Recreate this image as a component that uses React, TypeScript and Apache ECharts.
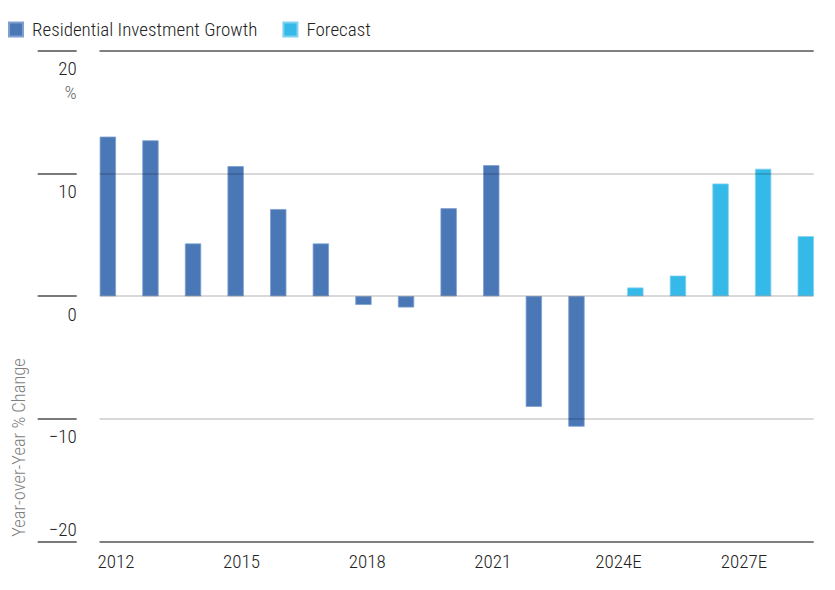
import React, { useEffect, useRef } from "react";
import * as echarts from "echarts";

const categories = ["2012", "2013", "2014", "2015", "2016", "2017", "2018", "2019", "2020", "2021", "2022", "2023", "2024E", "2025E", "2026E", "2027E", "2028E"];
const historical = [13.0, 12.7, 4.3, 10.6, 7.1, 4.3, -0.71, -0.92, 7.17, 10.68, -9.02, -10.63, null, null, null, null, null];
const forecast = [null, null, null, null, null, null, null, null, null, null, null, null, 0.71, 1.68, 9.18, 10.38, 4.89];
const yMin = -20;
const yMax = 20;
const yStep = 10;

const FONT = '"Roboto Condensed", Roboto, sans-serif';
const WEIGHT = 300;
const TOP = 50.7;
const H = 491;

const fmtNum = (v: number) => (v < 0 ? "\u2212" + -v : String(v));

const hiddenParts = {
  axisLine: { show: false },
  axisTick: { show: false },
  axisLabel: { show: false },
  splitLine: { show: false },
};

export default function App() {
  const ref = useRef<HTMLDivElement>(null);
  useEffect(() => {
    const chart = echarts.init(ref.current!, null, { renderer: "svg" });
    chart.setOption({
      animation: false,
      backgroundColor: "#ffffff",
      legend: {
        left: 8,
        top: 20,
        padding: 0,
        icon: "rect",
        itemWidth: 14,
        itemHeight: 14,
        itemGap: 25,
        textStyle: { fontFamily: FONT, fontWeight: WEIGHT, fontSize: 19, color: "#222", padding: [0, 0, 0, 4] },
        data: ["Residential Investment Growth", "Forecast"],
      },
      grid: [
        { left: 94.7, top: TOP, width: 724.2, height: H },
        { left: 99.5, top: TOP, width: 714.2, height: H },
        { left: 37.7, top: TOP, width: 39, height: H },
        { left: 37.7, top: TOP, width: 39, height: H },
        { left: 95, top: TOP, width: 711.8, height: H },
      ],
      xAxis: [
        { type: "category", gridIndex: 0, data: categories, ...hiddenParts },
        { type: "value", gridIndex: 1, min: 0, max: 1, ...hiddenParts },
        { type: "value", gridIndex: 2, min: 0, max: 1, ...hiddenParts },
        { type: "value", gridIndex: 3, min: 0, max: 1, ...hiddenParts },
        {
          type: "category",
          gridIndex: 4,
          data: categories,
          axisLine: { show: false },
          axisTick: { show: false },
          splitLine: { show: false },
          axisLabel: { interval: 2, margin: 10, fontFamily: FONT, fontWeight: WEIGHT, fontSize: 19, color: "#222" },
        },
      ],
      yAxis: [
        { type: "value", gridIndex: 0, min: yMin, max: yMax, interval: yStep, ...hiddenParts },
        {
          type: "value",
          gridIndex: 1,
          min: yMin,
          max: yMax,
          interval: yStep,
          z: 5,
          axisLine: { show: false },
          axisTick: { show: false },
          axisLabel: { show: false },
          splitLine: {
            show: true,
            lineStyle: {
              width: 1.8,
              color: ["rgba(0,0,0,0.5)", "rgba(0,0,0,0.15)", "rgba(0,0,0,0.15)", "rgba(0,0,0,0.15)", "rgba(0,0,0,0.5)"],
            },
          },
        },
        {
          type: "value",
          gridIndex: 2,
          position: "right",
          min: yMin,
          max: yMax,
          interval: yStep,
          axisLine: { show: false },
          axisTick: { show: false },
          splitLine: { show: true, lineStyle: { width: 1.8, color: "#7a7a7a" } },
          axisLabel: {
            inside: true,
            margin: 0,
            verticalAlign: "top",
            padding: [6, 0, 0, 0],
            formatter: (v: number) => (v === yMin ? "" : v === yMax ? `{v|${fmtNum(v)}}\n{p|%}` : `{v|${fmtNum(v)}}`),
            rich: {
              v: { fontFamily: FONT, fontWeight: WEIGHT, fontSize: 19, lineHeight: 24, color: "#222", align: "right" },
              p: { fontFamily: FONT, fontWeight: WEIGHT, fontSize: 19, lineHeight: 24, color: "#666", align: "right" },
            },
          },
        },
        {
          type: "value",
          gridIndex: 3,
          position: "right",
          min: yMin,
          max: yMax,
          interval: yStep,
          axisLine: { show: false },
          axisTick: { show: false },
          splitLine: { show: false },
          axisLabel: {
            inside: true,
            margin: 0,
            verticalAlign: "bottom",
            lineHeight: 24,
            fontFamily: FONT,
            fontWeight: WEIGHT,
            fontSize: 19,
            color: "#222",
            formatter: (v: number) => (v === yMin ? fmtNum(v) : ""),
          },
        },
        { type: "value", gridIndex: 4, min: yMin, max: yMax, interval: yStep, ...hiddenParts },
      ],
      graphic: [
        {
          type: "text",
          x: 19,
          y: 447.5,
          rotation: Math.PI / 2,
          style: {
            text: "Year-over-Year % Change",
            font: `${WEIGHT} 18.5px ${FONT}`,
            fill: "#7f7f7f",
            align: "center",
            verticalAlign: "middle",
          },
        },
      ],
      series: [
        {
          name: "Residential Investment Growth",
          type: "bar",
          xAxisIndex: 0,
          yAxisIndex: 0,
          data: historical,
          barWidth: 16.3,
          barGap: "0%",
          itemStyle: { color: "#4a77b6", borderColor: "#7f9fcf", borderWidth: 0.8 },
        },
        {
          name: "Forecast",
          type: "bar",
          xAxisIndex: 0,
          yAxisIndex: 0,
          data: forecast,
          barWidth: 16.3,
          barGap: "0%",
          itemStyle: { color: "#34b9e8", borderColor: "#7dd2f0", borderWidth: 0.8 },
        },
      ],
    });
    return () => chart.dispose();
  }, []);
  return <div ref={ref} style={{ position: "fixed", left: 0, top: 0, width: 835, height: 590 }} />;
}
